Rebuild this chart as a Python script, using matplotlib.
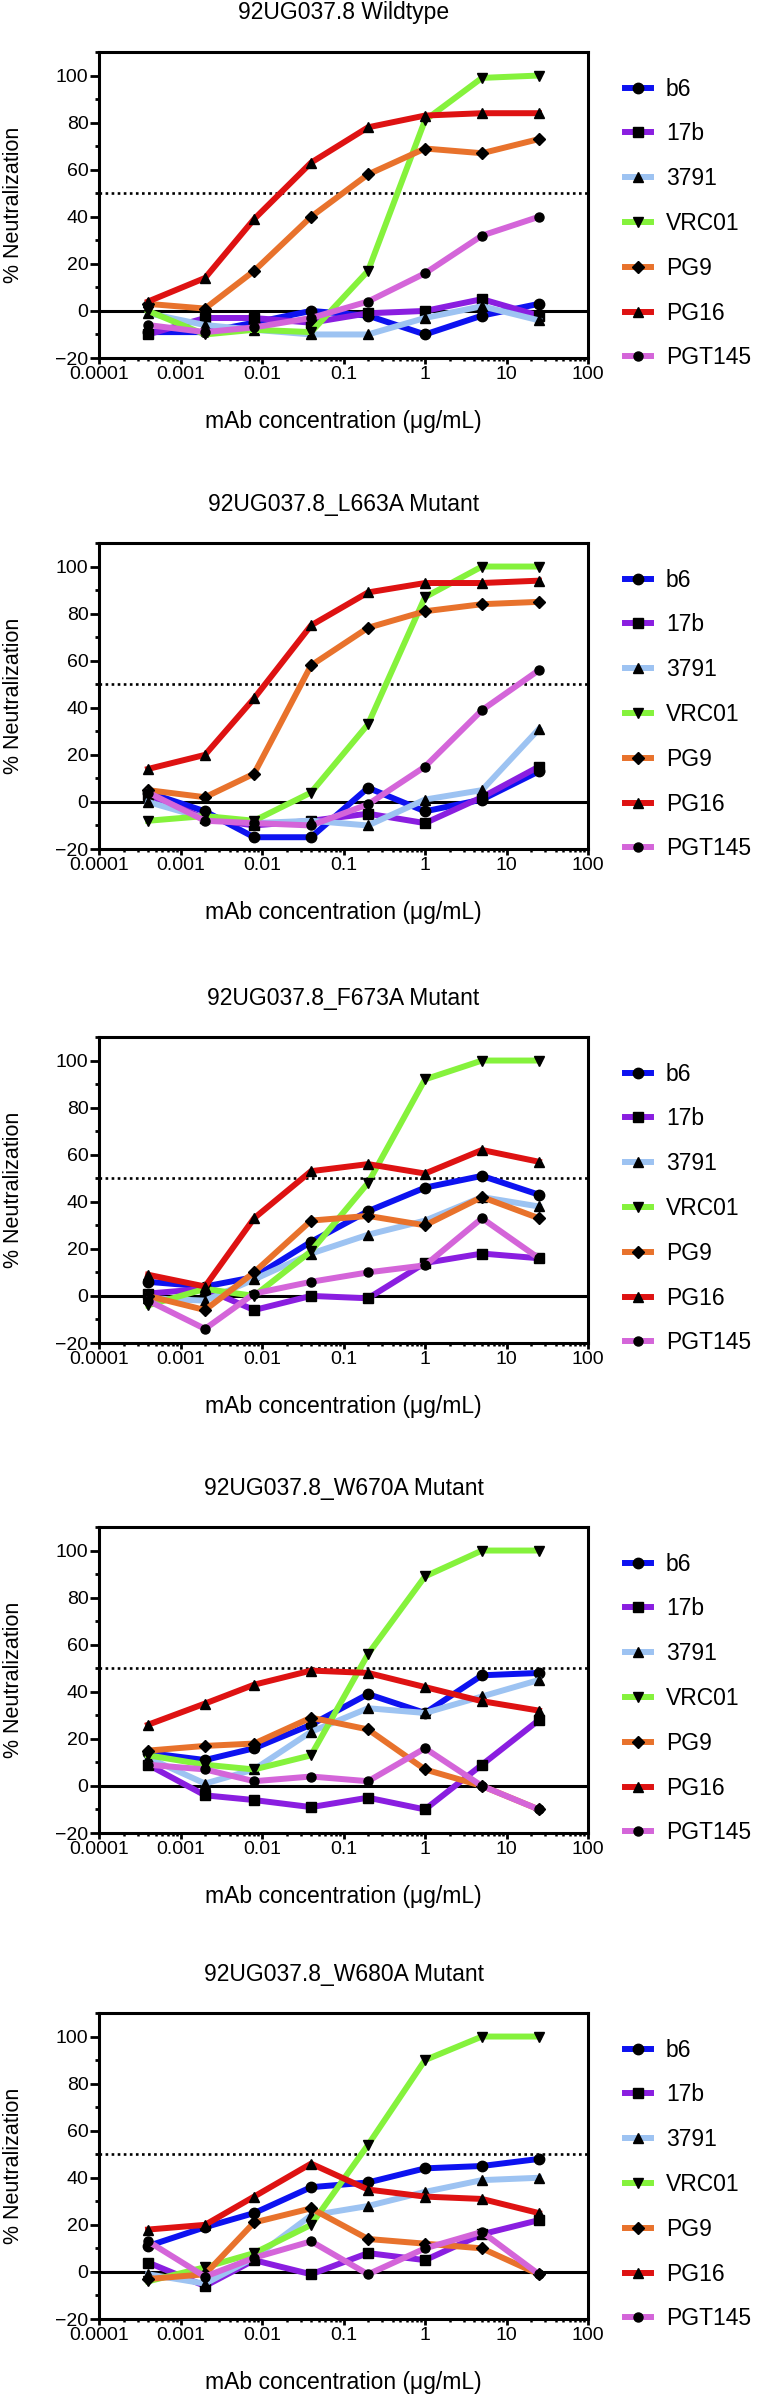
import matplotlib
matplotlib.use("Agg")
import matplotlib.pyplot as plt
from matplotlib.ticker import LogLocator, MultipleLocator, NullFormatter
import numpy as np

plt.rcParams["font.family"] = ["Liberation Sans", "DejaVu Sans"]

# mAb concentration (ug/mL), 5-fold dilution series
conc = [0.0004, 0.002, 0.008, 0.04, 0.2, 1, 5, 25]
mabs = ["b6", "17b", "3791", "VRC01", "PG9", "PG16", "PGT145"]
titles = ["92UG037.8 Wildtype", "92UG037.8_L663A Mutant", "92UG037.8_F673A Mutant",
          "92UG037.8_W670A Mutant", "92UG037.8_W680A Mutant"]

# % neutralization, one row per mAb (same order as mabs)
wildtype = [
    [-9, -9, -5, 0, -2, -10, -2, 3],
    [-10, -3, -3, -5, -1, 0, 5, -2],
    [-1, -6, -8, -10, -10, -3, 2, -4],
    [0, -10, -8, -9, 17, 81, 99, 100],
    [3, 1, 17, 40, 58, 69, 67, 73],
    [4, 14, 39, 63, 78, 83, 84, 84],
    [-6, -9, -7, -3, 4, 16, 32, 40],
]
l663a = [
    [4, -4, -15, -15, 6, -4, 1, 13],
    [3, -7, -10, -8, -5, -9, 2, 15],
    [0, -7, -9, -8, -10, 1, 5, 31],
    [-8, -6, -8, 4, 33, 87, 100, 100],
    [5, 2, 12, 58, 74, 81, 84, 85],
    [14, 20, 44, 75, 89, 93, 93, 94],
    [4, -8, -9, -10, -1, 15, 39, 56],
]
f673a = [
    [6, 4, 8, 23, 36, 46, 51, 43],
    [1, 3, -6, 0, -1, 14, 18, 16],
    [-1, -2, 7, 18, 26, 32, 42, 38],
    [-4, 3, 0, 19, 48, 92, 100, 100],
    [0, -6, 10, 32, 34, 30, 42, 33],
    [9, 4, 33, 53, 56, 52, 62, 57],
    [-2, -14, 1, 6, 10, 13, 33, 16],
]
w670a = [
    [14, 11, 16, 26, 39, 31, 47, 48],
    [9, -4, -6, -9, -5, -10, 9, 28],
    [12, 1, 7, 23, 33, 31, 38, 45],
    [13, 9, 7, 13, 56, 89, 100, 100],
    [15, 17, 18, 29, 24, 7, 0, -10],
    [26, 35, 43, 49, 48, 42, 36, 32],
    [9, 7, 2, 4, 2, 16, 0, -10],
]
w680a = [
    [11, 19, 25, 36, 38, 44, 45, 48],
    [4, -6, 5, -1, 8, 5, 16, 22],
    [-1, -5, 6, 24, 28, 34, 39, 40],
    [-4, 2, 8, 20, 54, 90, 100, 100],
    [-3, -1, 21, 27, 14, 12, 10, -1],
    [18, 20, 32, 46, 35, 32, 31, 25],
    [13, -2, 6, 13, -1, 10, 17, -1],
]
panels = [wildtype, l663a, f673a, w670a, w680a]

colors = ["#0d12f0", "#8a1ee0", "#9dc3f2", "#85f23c", "#e8722c", "#de1212", "#d465d9"]
markers = ["o", "s", "^", "v", "D", "^", "o"]
msizes = [7.5, 7, 6.5, 7.5, 6.5, 7.5, 6.5]

W, H = 759, 2396
tops = [52, 543, 1037, 1527, 2013]
ax_left, ax_w, ax_h = 99, 489, 306

fig = plt.figure(figsize=(W / 100, H / 100), dpi=100)

for top, title, rows in zip(tops, titles, panels):
    ax = fig.add_axes([ax_left / W, 1 - (top + ax_h) / H, ax_w / W, ax_h / H])
    for name, vals, col, mk, ms in zip(mabs, rows, colors, markers, msizes):
        ax.plot(conc, vals, color=col, lw=4.3, marker=mk, ms=ms,
                mfc="black", mec="black", label=name, zorder=3)
    ax.axhline(0, color="black", lw=2.2, zorder=2)
    ax.axhline(50, color="black", lw=1.9, ls=(0, (1, 1.3)), zorder=2)

    ax.set_xscale("log")
    ax.set_xlim(1e-4, 100)
    ax.set_ylim(-20, 110)
    ax.set_xticks([1e-4, 1e-3, 1e-2, 0.1, 1, 10, 100])
    ax.set_xticklabels(["0.0001", "0.001", "0.01", "0.1", "1", "10", "100"])
    ax.xaxis.set_minor_locator(LogLocator(base=10, subs=np.arange(2, 10) * 1.0, numticks=20))
    ax.xaxis.set_minor_formatter(NullFormatter())
    ax.set_yticks(range(-20, 101, 20))
    ax.yaxis.set_minor_locator(MultipleLocator(10))

    ax.tick_params(axis="both", which="major", direction="out", width=2, labelsize=14)
    ax.tick_params(axis="y", which="major", length=6.5, pad=1)
    ax.tick_params(axis="x", which="major", length=4, pad=1.5)
    ax.tick_params(axis="y", which="minor", direction="out", length=3, width=2)
    ax.tick_params(axis="x", which="minor", direction="out", length=2.5, width=1.8)
    for sp in ax.spines.values():
        sp.set_linewidth(2.2)

    ax.set_xlabel("mAb concentration (\u03bcg/mL)", fontsize=16.5)
    ax.xaxis.set_label_coords(0.5, -0.17)
    ax.set_ylabel("% Neutralization", fontsize=15.5)
    ax.yaxis.set_label_coords(-0.153, 0.5)

    fig.text((ax_left + ax_w / 2) / W, 1 - (top - 39) / H, title,
             ha="center", va="center", fontsize=16.5)

    ax.legend(loc="upper left", bbox_to_anchor=(1.0757, 0.916), frameon=False,
              fontsize=16.5, handlelength=1.15, handletextpad=0.64,
              labelspacing=0.95, borderpad=0, borderaxespad=0)

fig.savefig("out.png", dpi=100)
